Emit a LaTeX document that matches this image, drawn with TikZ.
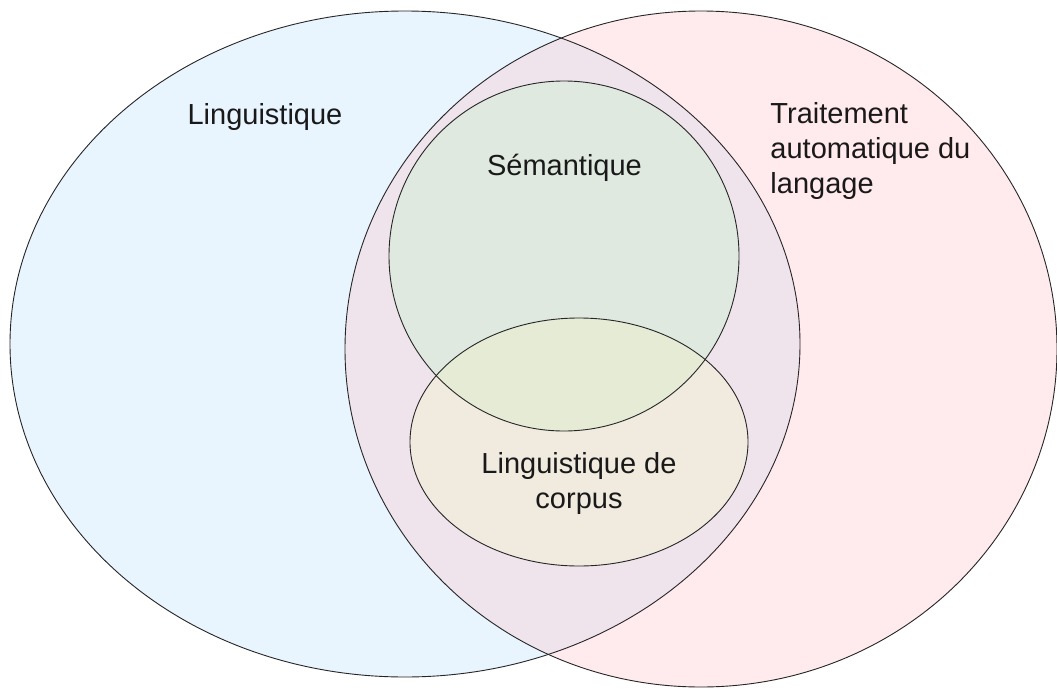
\documentclass[tikz,border=0pt]{standalone}
\usepackage{fontspec}
\setmainfont{Liberation Sans}
\definecolor{lingblue}{HTML}{E8F4FE}
\definecolor{talpink}{HTML}{FFEAED}
\definecolor{bothmauve}{HTML}{EFE3EC}
\definecolor{semgreen}{HTML}{DFE9E0}
\definecolor{corpbeige}{HTML}{F0EADF}
\definecolor{semcorp}{HTML}{E5EBD4}
\begin{document}
\begin{tikzpicture}[x=1pt, y=-1pt, line width=.9pt,
    lbl/.style={inner sep=0pt, text=black!90, font=\fontsize{29}{35}\selectfont}]
\useasboundingbox (0,0) rectangle (1057,688);
\coordinate (ling) at (405,344);
\coordinate (tal) at (701,349);
\coordinate (sem) at (564,256);
\coordinate (corp) at (579,442);

% fills
\fill[lingblue] (ling) ellipse [x radius=395pt, y radius=333pt];
\fill[talpink] (tal) ellipse [x radius=356pt, y radius=338pt];
\begin{scope}
\clip (ling) ellipse [x radius=395pt, y radius=333pt];
\fill[bothmauve] (tal) ellipse [x radius=356pt, y radius=338pt];
\end{scope}
\fill[semgreen] (sem) circle [radius=175pt];
\fill[corpbeige] (corp) ellipse [x radius=169pt, y radius=124pt];
\begin{scope}
\clip (sem) circle [radius=175pt];
\fill[semcorp] (corp) ellipse [x radius=169pt, y radius=124pt];
\end{scope}

% outlines
\draw[black!85] (ling) ellipse [x radius=395pt, y radius=333pt];
\draw[black!85] (tal) ellipse [x radius=356pt, y radius=338pt];
\draw[black!85] (sem) circle [radius=175pt];
\draw[black!85] (corp) ellipse [x radius=169pt, y radius=124pt];

% labels
\node[lbl, anchor=base] (linglbl) at (265,124) {Linguistique};
\node[lbl, anchor=base] (semlbl) at (564.5,175) {Sémantique};
\node[lbl, anchor=north west, align=left] (tallbl) at (770,102) {Traitement\\automatique du\\langage};
\node[lbl, anchor=north, align=center] (corplbl) at (579,452) {Linguistique de\\corpus};
\end{tikzpicture}
\end{document}
